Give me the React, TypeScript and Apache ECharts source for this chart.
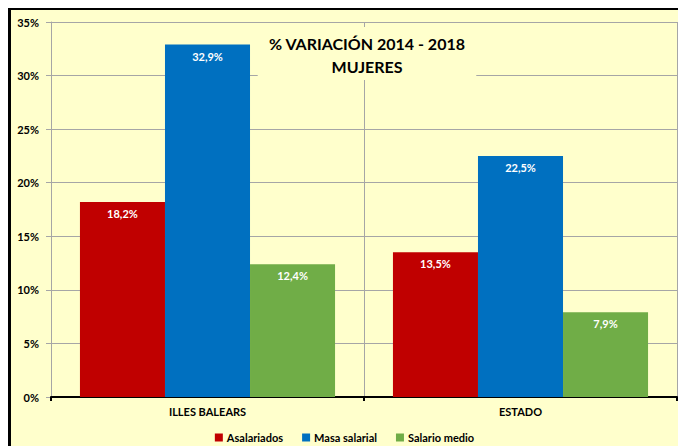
import React, { useEffect, useRef } from "react";
import * as echarts from "echarts";

const categories = ["ILLES BALEARS", "ESTADO"];
const seriesNames = ["Asalariados", "Masa salarial", "Salario medio"];
const asalariados = [18.2, 13.5];
const masaSalarial = [32.9, 22.5];
const salarioMedio = [12.4, 7.9];
const colors = ["#C00000", "#0070C0", "#70AD47"];
const FONT = "Lato, 'Liberation Sans', sans-serif";

export default function App() {
  const ref = useRef<HTMLDivElement>(null);
  useEffect(() => {
    if (!ref.current) return;
    const chart = echarts.init(ref.current, null, { renderer: "svg" });
    const values = [asalariados, masaSalarial, salarioMedio];
    chart.setOption({
      animation: false,
      backgroundColor: "#FFFFCC",
      textStyle: { fontFamily: FONT },
      title: {
        text: "% VARIACIÓN 2014 - 2018\nMUJERES",
        left: 345,
        top: 17,
        textAlign: "center",
        padding: [5, 11, 2, 11],
        backgroundColor: "#FFFFCC",
        textStyle: {
          fontFamily: FONT,
          fontSize: 16,
          fontWeight: "bold",
          color: "#000",
          lineHeight: 23,
        },
      },
      legend: {
        data: seriesNames,
        top: 417,
        left: "center",
        itemWidth: 8,
        itemHeight: 8,
        itemGap: 19,
        icon: "rect",
        textStyle: { fontFamily: FONT, fontSize: 11, fontWeight: "bold", color: "#000", padding: [0, 0, 0, -1] },
      },
      grid: { left: 40, top: 12, right: 1, bottom: 49 },
      xAxis: {
        type: "category",
        data: categories,
        axisLine: { lineStyle: { color: "#000", width: 2 } },
        axisTick: { show: true, length: 4, lineStyle: { color: "#000", width: 2 } },
        splitLine: { show: true, lineStyle: { color: "#A6A6A6", width: 1 } },
        axisLabel: { fontFamily: FONT, fontSize: 11, fontWeight: "bold", color: "#000", margin: 9 },
      },
      yAxis: {
        type: "value",
        min: 0,
        max: 35,
        interval: 5,
        axisLine: { show: true, lineStyle: { color: "#A6A6A6" } },
        axisTick: { show: true, length: 5, lineStyle: { color: "#A6A6A6" } },
        splitLine: { show: true, lineStyle: { color: "#A6A6A6" } },
        axisLabel: {
          formatter: "{value}%",
          fontFamily: FONT,
          fontSize: 11,
          fontWeight: "bold",
          color: "#000",
          margin: 12,
        },
      },
      series: seriesNames.map((name, i) => ({
        name,
        type: "bar",
        data: values[i],
        barGap: "0%",
        barCategoryGap: "18.5%",
        itemStyle: { color: colors[i] },
        label: {
          show: true,
          position: "insideTop",
          distance: 6,
          color: "#fff",
          fontFamily: FONT,
          fontSize: 11,
          fontWeight: "bold",
          formatter: (p: any) => p.value.toFixed(1).replace(".", ",") + "%",
        },
      })),
    });
    return () => chart.dispose();
  }, []);
  return (
    <div
      style={{
        position: "fixed",
        left: 8,
        top: 8,
        width: 670,
        height: 438,
        overflow: "hidden",
        background: "#FFFFCC",
      }}
    >
      <div style={{ position: "absolute", left: 0, top: 0, width: 670, height: 2, background: "#000" }} />
      <div style={{ position: "absolute", left: 0, top: 0, width: 3, height: 438, background: "#000" }} />
      <div ref={ref} style={{ position: "absolute", left: 3, top: 2, width: 667, height: 436 }} />
    </div>
  );
}
